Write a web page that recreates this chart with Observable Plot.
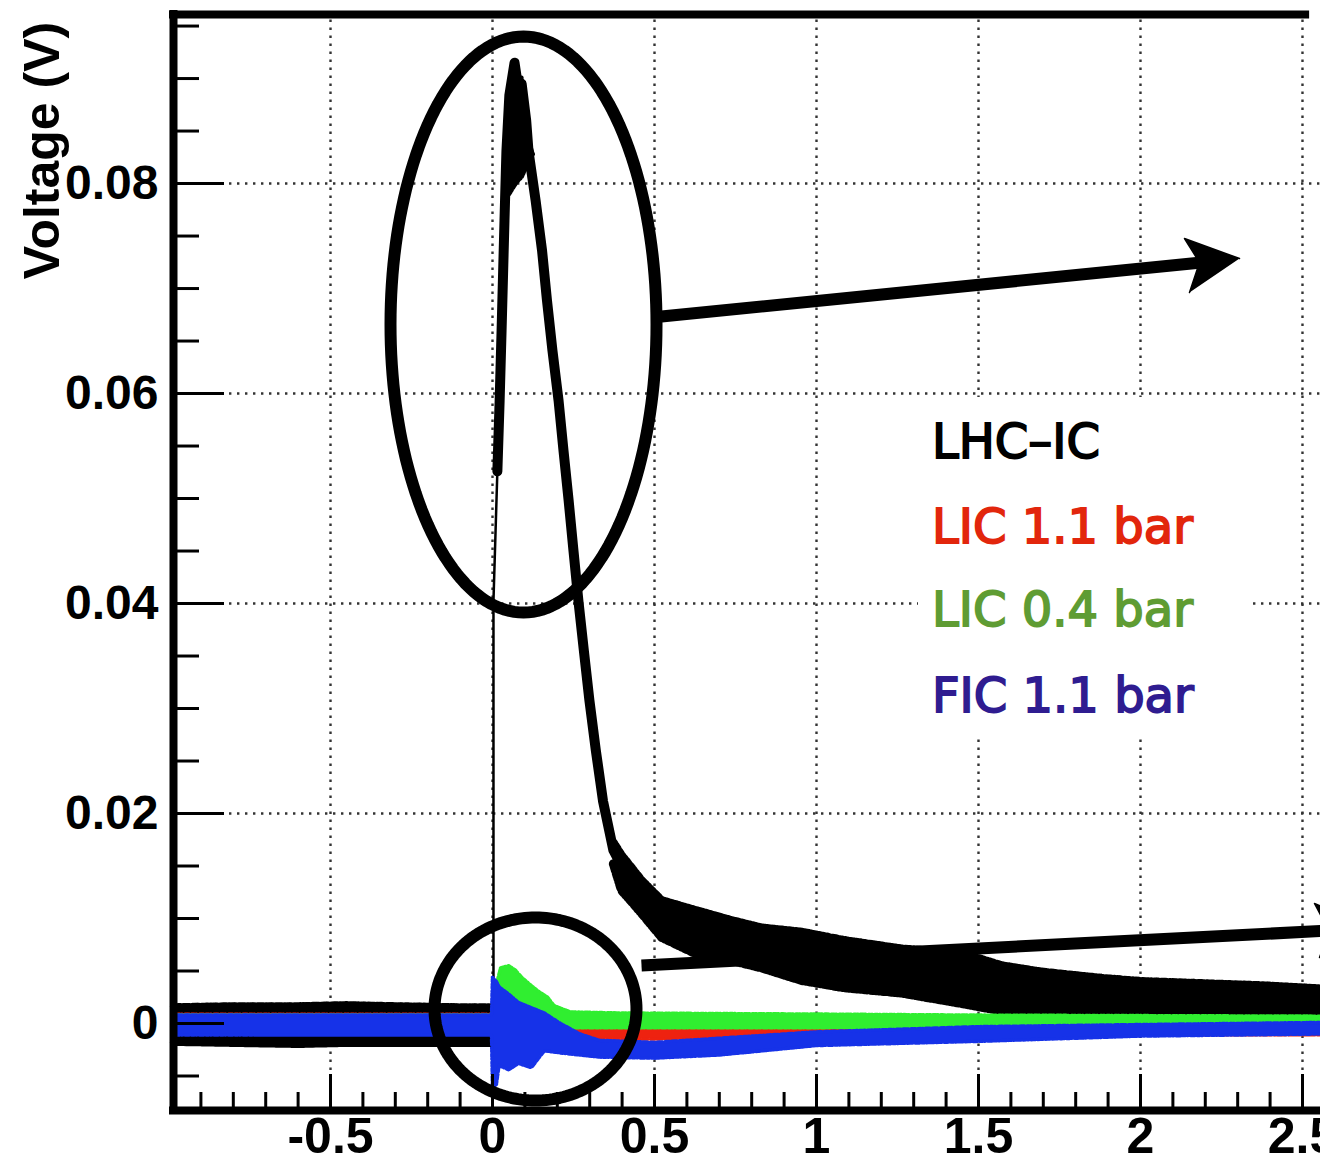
<!DOCTYPE html>
<html><head><meta charset="utf-8">
<script src="https://cdn.jsdelivr.net/npm/d3@7"></script>
<script src="https://cdn.jsdelivr.net/npm/@observablehq/plot@0.6"></script>
<style>
html,body{margin:0;padding:0;background:#fff;overflow:hidden;}
#wrap{position:relative;width:1320px;height:1162px;overflow:hidden;}
#legend{position:absolute;left:918px;top:397px;width:332px;height:338px;background:#fff;font-family:"DejaVu Sans",sans-serif;font-size:48px;}
#legend div{position:absolute;left:14px;line-height:1;white-space:nowrap;-webkit-text-stroke:1.8px currentColor;}
</style></head><body><div id="wrap"></div>
<script>
// ---- axes / ticks ----
const xMajor = [-0.5, 0, 0.5, 1, 1.5, 2, 2.5];
const xMinor = [-0.9,-0.8,-0.7,-0.6,-0.4,-0.3,-0.2,-0.1,0.1,0.2,0.3,0.4,0.6,0.7,0.8,0.9,1.1,1.2,1.3,1.4,1.6,1.7,1.8,1.9,2.1,2.2,2.3,2.4];
const yMajor = [0, 0.02, 0.04, 0.06, 0.08];
const yMinor = [-0.005,0.005,0.01,0.015,0.025,0.03,0.035,0.045,0.05,0.055,0.065,0.07,0.075,0.085,0.09,0.095];
const yTitle = "Voltage (V)";

// ---- legend ----
const legendLabels = ["LHC–IC", "LIC 1.1 bar", "LIC 0.4 bar", "FIC 1.1 bar"];
const legendColors = ["#000000", "#e2260c", "#5f9c33", "#2f1c90"];

// ---- LHC-IC (black) ----
const blackBase = [
  {x:-0.985, lo:-0.0018, hi:0.0016}, {x:-0.8, lo:-0.0019, hi:0.0017}, {x:-0.6, lo:-0.0020, hi:0.0017},
  {x:-0.45, lo:-0.0019, hi:0.0018}, {x:-0.3, lo:-0.0019, hi:0.0017}, {x:-0.1, lo:-0.0019, hi:0.0016},
  {x:0.0, lo:-0.0019, hi:0.0016}
];
const blackStepX = [0.003, 0.003, 0.015];
const blackStepY = [0.0, 0.0403, 0.0526];
const blackPeakX = [0.015,0.022,0.028,0.037,0.043,0.052,0.068,0.080,0.090,0.104,0.111,0.133,0.153,0.168,0.185,0.204,0.219,0.235,0.250,0.265,0.282,0.299,0.319,0.341,0.373,0.414];
const blackPeakY = [0.0526,0.0593,0.0660,0.0765,0.0831,0.0884,0.0915,0.0890,0.0895,0.0860,0.0831,0.0784,0.0736,0.0689,0.0641,0.0593,0.0546,0.0498,0.0450,0.0403,0.0355,0.0308,0.0260,0.0212,0.0165,0.0141];
const blackPeakBand = [
  {x:0.043, lo:0.0793, hi:0.0870}, {x:0.052, lo:0.0790, hi:0.0890}, {x:0.062, lo:0.0795, hi:0.0900},
  {x:0.068, lo:0.0798, hi:0.0915}, {x:0.072, lo:0.0800, hi:0.0880}, {x:0.080, lo:0.0803, hi:0.0895},
  {x:0.090, lo:0.0806, hi:0.0901}, {x:0.096, lo:0.0810, hi:0.0870}, {x:0.104, lo:0.0815, hi:0.0865},
  {x:0.112, lo:0.0820, hi:0.0840}, {x:0.125, lo:0.0810, hi:0.0828}
];
const blackTail = [
  {x:0.373, lo:0.0152, hi:0.0172}, {x:0.398, lo:0.0127, hi:0.0160},
  {x:0.460, lo:0.0105, hi:0.0136}, {x:0.522, lo:0.0082, hi:0.0117}, {x:0.623, lo:0.0067, hi:0.0108},
  {x:0.738, lo:0.0060, hi:0.0098}, {x:0.830, lo:0.0053, hi:0.0091}, {x:0.954, lo:0.0041, hi:0.0087},
  {x:1.086, lo:0.0034, hi:0.0079}, {x:1.262, lo:0.0029, hi:0.0071}, {x:1.448, lo:0.0019, hi:0.0067},
  {x:1.571, lo:0.0012, hi:0.0055}, {x:1.694, lo:0.0010, hi:0.0049}, {x:1.880, lo:0.0009, hi:0.0043},
  {x:2.003, lo:0.0008, hi:0.0040}, {x:2.188, lo:0.0007, hi:0.0038}, {x:2.373, lo:0.0006, hi:0.0036},
  {x:2.556, lo:0.0005, hi:0.0033}
];

// ---- LIC 1.1 bar (red) ----
const redX  = [-0.985, 0.0, 0.01, 0.1, 0.2, 0.25, 0.5, 0.8, 1.2, 2.556];
const redLo = [-0.0009,-0.0009,-0.0035,-0.0025,-0.0016,-0.0015,-0.0015,-0.0013,-0.0011,-0.0011];
const redHi = [0.0009, 0.0009, 0.0030, 0.0020, 0.0005,-0.0003,-0.0004,-0.0002,-0.0001, 0.0000];

// ---- LIC 0.4 bar (green) ----
const greenX  = [-0.985,-0.003,0.006,0.025,0.05,0.07,0.09,0.12,0.14,0.17,0.19,0.24,0.4,1.0,1.5,2.556];
const greenLo = [-0.0008,-0.0008,-0.0005,-0.0005,-0.0003,-0.0003,-0.0004,-0.0004,-0.0004,-0.0004,-0.0004,-0.0004,-0.0004,-0.0004,-0.0003,-0.0001];
const greenHi = [0.0008,0.0008,0.0030,0.0053,0.0055,0.0051,0.0044,0.0036,0.0031,0.0025,0.0017,0.0011,0.0010,0.0009,0.0008,0.0007];

// ---- FIC 1.1 bar (blue) ----
const blueX  = [-0.985,-0.003,0.0,0.012,0.02,0.05,0.08,0.12,0.16,0.21,0.27,0.33,0.5,0.7,1.0,1.5,2.0,2.556];
const blueLo = [-0.0011,-0.0011,-0.0061,-0.0058,-0.0040,-0.0044,-0.0038,-0.0042,-0.0026,-0.0028,-0.0030,-0.0032,-0.0033,-0.0030,-0.0021,-0.0017,-0.0012,-0.0010];
const blueHi = [0.0008,0.0008,0.0044,0.0040,0.0035,0.0028,0.0020,0.0015,0.0010,0.0000,-0.0010,-0.0016,-0.0018,-0.0014,-0.0008,-0.0003,-0.0001,0.0001];

// ---- hand-drawn annotations (data units) ----
const ellipses = [
  {cx:0.0957, cy:0.06657, rx:0.4105, ry:0.02743},
  {cx:0.1327, cy:0.00138, rx:0.3117, ry:0.008714}
];
const arrowShafts = [
  {x1:0.5216, y1:0.06733, x2:2.1883, y2:0.07248},
  {x1:0.4599, y1:0.005524, x2:2.5895, y2:0.008857}
];
const arrowHeads = [
  [{x:2.3056,y:0.07286},{x:2.1358,y:0.07476},{x:2.1821,y:0.07248},{x:2.1512,y:0.06962}],
  [{x:2.7068,y:0.009238},{x:2.5370,y:0.011429},{x:2.5833,y:0.008762},{x:2.5525,y:0.006286}]
];

// ---- layout ----
const W = 1320, H = 1162, mL = 173, mR = 0, mT = 14, mB = 52;
const xDomain = [-0.9846, 2.5556];
const yDomain = [-0.008286, 0.0961];
const frameTopRight = 2.522;
const kx = (xDomain[1]-xDomain[0])/(W-mL-mR);
const ky = (yDomain[1]-yDomain[0])/(H-mT-mB);

const zip = (X, A, B) => X.map((x,i) => ({x, lo:A[i], hi:B[i]}));
const zip2 = (X, Y) => X.map((x,i) => ({x, y:Y[i]}));
const red = zip(redX, redLo, redHi), green = zip(greenX, greenLo, greenHi), blue = zip(blueX, blueLo, blueHi);

const FONT = "Liberation Sans, Arial, Helvetica, sans-serif";
function band(data, color, w, dash) {
  return [
    Plot.areaY(data, {x:"x", y1:"lo", y2:"hi", fill:color}),
    Plot.line(data, {x:"x", y:"hi", stroke:color, strokeWidth:w, strokeDasharray:dash}),
    Plot.line(data, {x:"x", y:"lo", stroke:color, strokeWidth:w, strokeDasharray:dash})
  ];
}
function ellipsePts(e) {
  return d3.range(0, 182).map(i => { const t = i/180*2*Math.PI; return {x:e.cx + e.rx*Math.cos(t), y:e.cy + e.ry*Math.sin(t)}; });
}
const jag = "1.5,2,3,1.5,1,2.5,2,1";
const jagBig = "1,2,2,1,1,3,3,1.5,1.5,2.5";

const plot = Plot.plot({
  width: W, height: H,
  marginLeft: mL, marginRight: mR, marginTop: mT, marginBottom: mB,
  x: {domain: xDomain, axis: null},
  y: {domain: yDomain, axis: null},
  style: {background: "white", fontFamily: FONT},
  marks: [
    // dotted grid
    Plot.ruleX(xMajor, {x: d => d, y1: yDomain[0], y2: yDomain[1], stroke: "#333", strokeWidth: 2.4, strokeDasharray: "2.4,5.6"}),
    Plot.ruleY(yMajor, {y: d => d, x1: xDomain[0], x2: xDomain[1], stroke: "#333", strokeWidth: 2.4, strokeDasharray: "2.4,5.6"}),
    // LHC-IC
    ...band(blackBase, "#000", 7, jagBig),
    Plot.line(zip2(blackStepX, blackStepY), {x:"x", y:"y", stroke:"#000", strokeWidth:2.5}),
    Plot.line(zip2(blackPeakX, blackPeakY), {x:"x", y:"y", stroke:"#000", strokeWidth:10, strokeLinejoin:"round"}),
    ...band(blackPeakBand, "#000", 4, jag),
    ...band(blackTail, "#000", 9, jagBig),
    // LIC 1.1 bar
    ...band(red, "#ee2210", 3, jag),
    // LIC 0.4 bar
    ...band(green, "#30ee30", 3.5, jag),
    // FIC 1.1 bar
    ...band(blue, "#1632e8", 3.5, jag),
    // annotations
    ...ellipses.map(e => Plot.line(ellipsePts(e), {x:"x", y:"y", stroke:"#000", strokeWidth:12, strokeLinejoin:"round"})),
    Plot.link(arrowShafts, {x1:"x1", y1:"y1", x2:"x2", y2:"y2", stroke:"#000", strokeWidth:12}),
    ...arrowHeads.map(h => Plot.line(h, {x:"x", y:"y", fill:"#000", stroke:"#000", strokeWidth:1.5})),
    // ticks
    Plot.ruleY(yMajor, {y: d => d, x1: xDomain[0], x2: xDomain[0] + 51*kx, stroke:"#000", strokeWidth:3}),
    Plot.ruleY(yMinor, {y: d => d, x1: xDomain[0], x2: xDomain[0] + 26*kx, stroke:"#000", strokeWidth:3}),
    Plot.ruleX(xMajor, {x: d => d, y1: yDomain[0], y2: yDomain[0] + 36*ky, stroke:"#000", strokeWidth:3}),
    Plot.ruleX(xMinor, {x: d => d, y1: yDomain[0], y2: yDomain[0] + 18*ky, stroke:"#000", strokeWidth:3}),
    // frame
    Plot.ruleX([xDomain[0]], {y1: yDomain[0] - 4*ky, y2: yDomain[1] + 4*ky, stroke:"#000", strokeWidth:8}),
    Plot.ruleY([yDomain[1]], {x1: xDomain[0] - 4*kx, x2: frameTopRight, stroke:"#000", strokeWidth:8}),
    Plot.ruleY([yDomain[0]], {x1: xDomain[0] - 4*kx, x2: xDomain[1], stroke:"#000", strokeWidth:8}),
    // tick labels
    Plot.text(xMajor, {x: d => d, text: d => String(d), frameAnchor: "bottom", dy: 42, fontSize: 50, fontWeight: "bold", fontFamily: FONT, fill: "#000"}),
    Plot.text(yMajor, {y: d => d, text: d => String(d), frameAnchor: "left", dx: -15, textAnchor: "end", fontSize: 48, fontWeight: "bold", fontFamily: FONT, fill: "#000"}),
    Plot.text([yTitle], {frameAnchor: "top-left", dx: -115, dy: 136, rotate: -90, textAnchor: "middle", lineAnchor: "bottom", fontSize: 50, fontWeight: "bold", fontFamily: FONT, fill: "#000"})
  ]
});
const wrap = document.getElementById("wrap");
wrap.appendChild(plot);
const leg = document.createElement("div");
leg.id = "legend";
const tops = [20, 105, 188, 274];
legendLabels.forEach((t, i) => {
  const d = document.createElement("div");
  d.textContent = t;
  d.style.top = tops[i] + "px";
  d.style.color = legendColors[i];
  leg.appendChild(d);
});
wrap.appendChild(leg);
</script></body></html>
